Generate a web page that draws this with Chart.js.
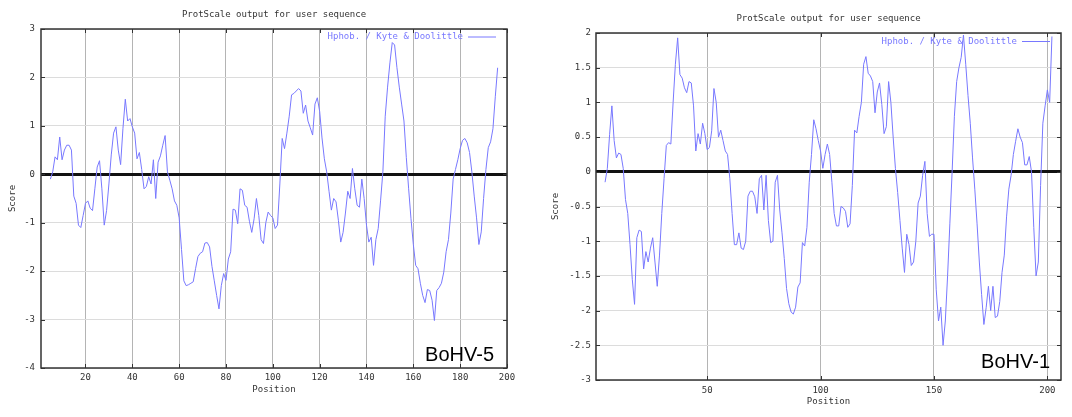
<!DOCTYPE html>
<html>
<head>
<meta charset="utf-8">
<title>ProtScale hydropathy – BoHV-5 / BoHV-1</title>
<script src="https://cdn.jsdelivr.net/npm/chart.js@4.4.1/dist/chart.umd.min.js"></script>
<style>
  html, body { margin: 0; padding: 0; background: #fff; }
  body { width: 1072px; height: 417px; position: relative; overflow: hidden; }
  canvas { position: absolute; top: 0; }
  #chartBoHV5 { left: 0; }
  #chartBoHV1 { left: 540px; }
</style>
</head>
<body>
<canvas id="chartBoHV5" width="530" height="417"></canvas>
<canvas id="chartBoHV1" width="532" height="417"></canvas>
<script>
// Kyte & Doolittle hydropathy, window 9 -> first score sits on residue 5
const firstResidue = 5;

// BoHV-5 scores, residues 5..196
const bohv5Score = [
  -0.1, 0.05, 0.36, 0.3, 0.77, 0.3, 0.5, 0.6, 0.6, 0.5,
  -0.45, -0.6, -1.05, -1.1, -0.85, -0.6, -0.55, -0.7, -0.75, -0.3,
  0.15, 0.28, -0.3, -1.05, -0.75, -0.2, 0.4, 0.85, 0.98, 0.5,
  0.2, 0.95, 1.55, 1.1, 1.15, 0.98, 0.85, 0.32, 0.45, 0.1,
  -0.3, -0.25, -0.05, -0.2, 0.3, -0.5, 0.25, 0.38, 0.6, 0.8,
  0.05, -0.12, -0.3, -0.55, -0.64, -0.9, -1.55, -2.2, -2.3, -2.28,
  -2.25, -2.22, -1.95, -1.7, -1.63, -1.6, -1.42, -1.41, -1.5, -1.9,
  -2.2, -2.5, -2.78, -2.3, -2.05, -2.19, -1.75, -1.6, -0.72, -0.74,
  -1.02, -0.3, -0.33, -0.64, -0.68, -0.97, -1.2, -0.92, -0.5, -0.85,
  -1.35, -1.43, -1.0, -0.78, -0.85, -0.9, -1.12, -1.05, -0.2, 0.74,
  0.53, 0.85, 1.2, 1.64, 1.67, 1.72, 1.77, 1.72, 1.26, 1.43,
  1.1, 0.96, 0.81, 1.45, 1.58, 1.3, 0.75, 0.32, 0.05, -0.35,
  -0.74, -0.5, -0.57, -0.95, -1.4, -1.2, -0.8, -0.35, -0.5, 0.12,
  -0.3, -0.64, -0.68, -0.1, -0.5, -1.05, -1.4, -1.3, -1.88, -1.35,
  -1.12, -0.55, 0.05, 1.2, 1.8, 2.3, 2.72, 2.67, 2.2, 1.8,
  1.45, 1.1, 0.35, -0.3, -0.92, -1.45, -1.88, -1.95, -2.25, -2.5,
  -2.65, -2.38, -2.4, -2.6, -3.02, -2.4, -2.34, -2.25, -2.02, -1.6,
  -1.35, -0.8, -0.1, 0.1, 0.3, 0.53, 0.7, 0.74, 0.65, 0.45,
  0.05, -0.45, -0.9, -1.45, -1.19, -0.5, 0.1, 0.55, 0.67, 0.94,
  1.6, 2.2
];

// BoHV-1 scores, residues 5..202
const bohv1Score = [
  -0.15, 0.05, 0.54, 0.95, 0.45, 0.2, 0.27, 0.25, 0.05, -0.4,
  -0.6, -1.05, -1.55, -1.91, -0.95, -0.84, -0.86, -1.4, -1.15, -1.3,
  -1.1, -0.95, -1.3, -1.65, -1.2, -0.6, -0.1, 0.38, 0.42, 0.4,
  1.0, 1.55, 1.93, 1.4, 1.35, 1.21, 1.14, 1.3, 1.28, 0.95,
  0.3, 0.55, 0.4, 0.7, 0.55, 0.32, 0.35, 0.59, 1.2, 1.0,
  0.5, 0.6, 0.45, 0.3, 0.25, -0.1, -0.6, -1.05, -1.05, -0.88,
  -1.1, -1.12, -1.0, -0.35, -0.28, -0.28, -0.36, -0.6, -0.1, -0.05,
  -0.55, -0.05, -0.7, -1.02, -1.0, -0.15, -0.05, -0.55, -0.88, -1.25,
  -1.68, -1.9, -2.02, -2.05, -1.95, -1.66, -1.6, -1.02, -1.07, -0.8,
  -0.15, 0.25, 0.75, 0.62, 0.45, 0.3, 0.05, 0.25, 0.4, 0.25,
  -0.15, -0.6, -0.78, -0.78, -0.5, -0.52, -0.57, -0.8, -0.75, -0.2,
  0.6, 0.56, 0.8, 1.0, 1.55, 1.66, 1.42, 1.38, 1.3, 0.85,
  1.15, 1.28, 0.97, 0.55, 0.65, 1.3, 1.0, 0.5, 0.05, -0.3,
  -0.7, -1.1, -1.45, -0.9, -1.05, -1.35, -1.3, -1.0, -0.45, -0.35,
  -0.05, 0.15, -0.6, -0.93, -0.9, -0.9, -1.7, -2.15, -1.95, -2.5,
  -2.15, -1.5, -0.75, 0.0, 0.8, 1.3, 1.5, 1.65, 1.97, 1.55,
  1.1, 0.7, 0.2, -0.25, -0.75, -1.3, -1.77, -2.2, -1.96, -1.65,
  -2.0, -1.65, -2.1, -2.08, -1.87, -1.45, -1.2, -0.65, -0.25, -0.05,
  0.25, 0.44, 0.62, 0.5, 0.42, 0.1, 0.1, 0.22, 0.0, -0.8,
  -1.5, -1.3, -0.2, 0.7, 0.95, 1.18, 1.0, 1.95
];

const bohv5XTicks = [20, 40, 60, 80, 100, 120, 140, 160, 180, 200];
const bohv5YTicks = [-4, -3, -2, -1, 0, 1, 2, 3];
const bohv1XTicks = [50, 100, 150, 200];
const bohv1YTicks = [-3, -2.5, -2, -1.5, -1, -0.5, 0, 0.5, 1, 1.5, 2];

const ink = '#333';
const traceBlue = '#7878ff';
const mono = { family: "'DejaVu Sans Mono', monospace", size: 9, weight: 'normal' };

// gnuplot-style frame: border, inward tick marks, key line and strain tag
const framePlugin = {
  id: 'frame',
  afterDraw(chart, args, opts) {
    const { ctx, chartArea: a, scales } = chart;
    ctx.save();
    ctx.strokeStyle = ink;
    ctx.lineWidth = 1;
    ctx.beginPath();
    scales.x.ticks.forEach(t => {
      const px = Math.round(scales.x.getPixelForValue(t.value)) + 0.5;
      ctx.moveTo(px, a.top); ctx.lineTo(px, a.top + 4);
      ctx.moveTo(px, a.bottom); ctx.lineTo(px, a.bottom - 4);
    });
    scales.y.ticks.forEach(t => {
      const py = Math.round(scales.y.getPixelForValue(t.value)) + 0.5;
      ctx.moveTo(a.left, py); ctx.lineTo(a.left + 4, py);
      ctx.moveTo(a.right, py); ctx.lineTo(a.right - 4, py);
    });
    ctx.stroke();
    ctx.lineWidth = 1.5;
    ctx.strokeRect(a.left, a.top, a.width, a.height);

    // key: label followed by a sample of the trace
    const ds = chart.data.datasets[0];
    const ky = a.top + opts.keyDrop;
    const lineEnd = a.right - 11;
    ctx.strokeStyle = ds.borderColor;
    ctx.lineWidth = 1;
    ctx.beginPath();
    ctx.moveTo(lineEnd - 28, ky);
    ctx.lineTo(lineEnd, ky);
    ctx.stroke();
    ctx.font = "9px 'DejaVu Sans Mono', monospace";
    ctx.fillStyle = ds.borderColor;
    ctx.textAlign = 'right';
    ctx.textBaseline = 'middle';
    ctx.fillText(ds.label, lineEnd - 33, ky);

    ctx.font = "20px 'Liberation Sans', Arial, sans-serif";
    ctx.fillStyle = '#000';
    ctx.textBaseline = 'alphabetic';
    ctx.fillText(opts.tag, a.right - opts.tagRight, a.bottom - opts.tagLift);
    ctx.restore();
  }
};

function hydropathyChart(id, score, xMax, xTicks, yTicks, lay) {
  const points = score.map((v, i) => ({ x: i + firstResidue, y: v }));
  return new Chart(document.getElementById(id), {
    type: 'line',
    data: {
      datasets: [{
        label: 'Hphob. / Kyte & Doolittle',
        data: points,
        borderColor: traceBlue,
        borderWidth: 1,
        pointRadius: 0,
        tension: 0
      }]
    },
    options: {
      responsive: false,
      animation: false,
      layout: { padding: { left: 0, right: lay.padRight, top: 0, bottom: 0 } },
      plugins: {
        legend: { display: false },
        tooltip: { enabled: false },
        title: {
          display: true,
          text: 'ProtScale output for user sequence',
          fullSize: false,
          color: ink,
          font: mono,
          padding: { top: lay.titleTop, bottom: lay.titleBottom }
        },
        frame: { tag: lay.tag, tagRight: lay.tagRight, tagLift: lay.tagLift, keyDrop: lay.keyDrop }
      },
      scales: {
        x: {
          type: 'linear',
          min: 1,
          max: xMax,
          afterBuildTicks: s => { s.ticks = xTicks.map(v => ({ value: v })); },
          afterFit: s => { s.height = lay.xHeight; },
          grid: { color: '#b4b4b4', drawTicks: false },
          border: { display: false },
          ticks: { color: ink, font: mono, padding: lay.xPad, maxRotation: 0 },
          title: { display: true, text: 'Position', color: ink, font: mono, padding: { top: 0, bottom: lay.xTitleBottom } }
        },
        y: {
          min: yTicks[0],
          max: yTicks[yTicks.length - 1],
          afterBuildTicks: s => { s.ticks = yTicks.map(v => ({ value: v })); },
          afterFit: s => { s.width = lay.yWidth; },
          grid: {
            color: c => c.tick && c.tick.value === 0 ? '#111' : '#dcdcdc',
            lineWidth: c => c.tick && c.tick.value === 0 ? 3 : 1,
            drawTicks: false
          },
          border: { display: false },
          ticks: { color: ink, font: mono, padding: lay.yPad, callback: v => String(v) },
          title: { display: true, text: 'Score', color: ink, font: mono, padding: { top: lay.yTitleLeft, bottom: 0 } }
        }
      }
    },
    plugins: [framePlugin]
  });
}

hydropathyChart('chartBoHV5', bohv5Score, 200, bohv5XTicks, bohv5YTicks, {
  padRight: 23, titleTop: 9.6, titleBottom: 8.6,
  xHeight: 49, xPad: 4, xTitleBottom: 21.6,
  yWidth: 41, yPad: 6, yTitleLeft: 7.6,
  tag: 'BoHV-5', tagRight: 13, tagLift: 7, keyDrop: 8
});

hydropathyChart('chartBoHV1', bohv1Score, 206, bohv1XTicks, bohv1YTicks, {
  padRight: 11, titleTop: 13.6, titleBottom: 8.6,
  xHeight: 37, xPad: 5, xTitleBottom: 9.6,
  yWidth: 56, yPad: 5, yTitleLeft: 10.6,
  tag: 'BoHV-1', tagRight: 11, tagLift: 12, keyDrop: 8.5
});
</script>
</body>
</html>
